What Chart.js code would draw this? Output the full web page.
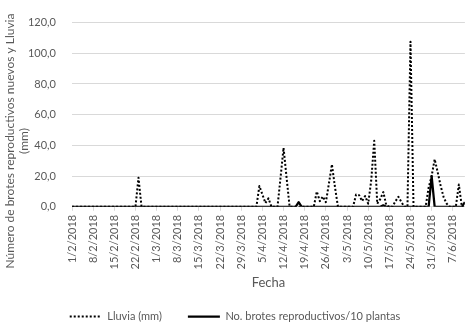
<!DOCTYPE html>
<html>
<head>
<meta charset="utf-8">
<script src="https://cdn.jsdelivr.net/npm/chart.js@4.4.0/dist/chart.umd.min.js"></script>
<style>
html,body{margin:0;padding:0;background:#fff;}
#wrap{width:470px;height:322px;position:relative;}
</style>
</head>
<body>
<div id="wrap"><canvas id="c" width="470" height="322"></canvas></div>
<script>
// Categories: one per day, 1/2/2018 .. 11/6/2018
const dates = [];
for (let i = 0; i < 131; i++) {
  const d = new Date(2018, 1, 1 + i);
  dates.push(d.getDate() + '/' + (d.getMonth() + 1) + '/' + d.getFullYear());
}

// Lluvia (mm), one value per day (rows of 7 days, row n starts at day 7n)
const lluvia = [
  0,0,0,0,0,0,0,
  0,0,0,0,0,0,0,
  0,0,0,0,0,0,0,
  0,19,0,0,0,0,0,
  0,0,0,0,0,0,0,
  0,0,0,0,0,0,0,
  0,0,0,0,0,0,0,
  0,0,0,0,0,0,0,
  0,0,0,0,0,0,13.5,
  8,2.4,5.5,0,0,0,19,
  38.4,19,0,0,0,0,0,
  0,0,0,0,10,3.7,6.7,
  3,15,27.6,13,0,0,0,
  0,0,0,8,7.6,3.7,7,
  2,17,43,2,5,9.6,1,
  0,0,3.5,6.5,3,0,0,
  107.6,0,0,0,0,0,12.5,
  20,31,22.5,13.5,6,2,0,
  0,0,14.5,0,0
];

// No. brotes reproductivos/10 plantas, one value per day
const brotes = [
  0,0,0,0,0,0,0,
  0,0,0,0,0,0,0,
  0,0,0,0,0,0,0,
  0,0,0,0,0,0,0,
  0,0,0,0,0,0,0,
  0,0,0,0,0,0,0,
  0,0,0,0,0,0,0,
  0,0,0,0,0,0,0,
  0,0,0,0,0,0,0,
  0,0,0,0,0,0,0,
  0,0,0,0,0,3,0,
  0,0,0,0,0,0,0,
  0,0,0,0,0,0,0,
  0,0,0,0,0,0,0,
  0,0,0,0,0,1,0,
  0,0,0,0,0,0,0,
  0,0,0,0,0,0,0,
  20,0,0,0,0,0,0,
  0,0,0,0,3
];

const seriesNames = ['Lluvia (mm)', 'No. brotes reproductivos/10 plantas'];
const yTitleLines = ['Número de brotes reproductivos nuevos y Lluvia', '(mm)'];
const xTitle = 'Fecha';

const FONT = 'Lato';
const GREY = '#595959';
Chart.defaults.font.family = FONT;
Chart.defaults.color = GREY;

const yTitlePlugin = {
  id: 'yTitle',
  afterDraw(chart) {
    const ctx = chart.ctx;
    ctx.save();
    ctx.fillStyle = GREY;
    ctx.font = '12px ' + FONT;
    ctx.textAlign = 'center';
    ctx.textBaseline = 'middle';
    const cy = 141;
    const xs = [10, 24];
    yTitleLines.forEach((t, i) => {
      ctx.save();
      ctx.translate(xs[i], cy);
      ctx.rotate(-Math.PI / 2);
      ctx.fillText(t, 0, 0);
      ctx.restore();
    });
    ctx.restore();
  }
};

new Chart(document.getElementById('c'), {
  type: 'line',
  data: {
    datasets: [
      {
        label: seriesNames[0],
        data: lluvia.map((v, i) => ({x: i, y: v})),
        borderColor: '#000',
        backgroundColor: '#000',
        borderWidth: 2,
        borderDash: [2, 2],
        borderJoinStyle: 'round',
        pointRadius: 0,
        tension: 0,
        fill: false
      },
      {
        label: seriesNames[1],
        data: brotes.map((v, i) => ({x: i, y: v})),
        borderColor: '#000',
        backgroundColor: '#000',
        borderWidth: 2.25,
        borderJoinStyle: 'round',
        pointRadius: 0,
        tension: 0,
        fill: false
      }
    ]
  },
  options: {
    responsive: false,
    animation: false,
    events: [],
    layout: {padding: {left: 0, right: 0, top: -2, bottom: -10}},
    plugins: {
      legend: {
        position: 'bottom',
        labels: {
          usePointStyle: true,
          pointStyle: 'line',
          pointStyleWidth: 32,
          padding: 26,
          color: GREY,
          font: {size: 11, family: FONT},
          generateLabels: (chart) => {
            const items = Chart.defaults.plugins.legend.labels.generateLabels(chart);
            items.forEach((it) => {
              const ds = chart.data.datasets[it.datasetIndex];
              it.lineDash = ds.borderDash || [];
              it.lineWidth = ds.borderWidth;
              it.strokeStyle = ds.borderColor;
            });
            return items;
          }
        }
      },
      tooltip: {enabled: false}
    },
    scales: {
      x: {
        type: 'linear',
        min: 0,
        max: dates.length - 1,
        offset: false,
        grid: {drawOnChartArea: false, drawTicks: true, tickLength: 4, color: '#d9d9d9'},
        border: {color: '#d9d9d9'},
        ticks: {
          stepSize: 7,
          includeBounds: false,
          autoSkip: false,
          minRotation: 90,
          maxRotation: 90,
          padding: 4,
          color: GREY,
          font: {size: 11, family: FONT},
          callback: (v) => dates[v]
        },
        title: {
          display: true,
          text: xTitle,
          color: GREY,
          font: {size: 13, family: FONT},
          padding: {top: 2, bottom: -6}
        }
      },
      y: {
        min: 0,
        max: 120,
        grid: {color: '#d9d9d9', drawTicks: false},
        border: {display: false},
        ticks: {
          stepSize: 20,
          padding: 16,
          color: GREY,
          font: {size: 11, family: FONT},
          callback: (v) => v.toFixed(1).replace('.', ',')
        },
        afterFit: (s) => { s.width = 72; }
      }
    }
  },
  plugins: [yTitlePlugin]
});
</script>
</body>
</html>
